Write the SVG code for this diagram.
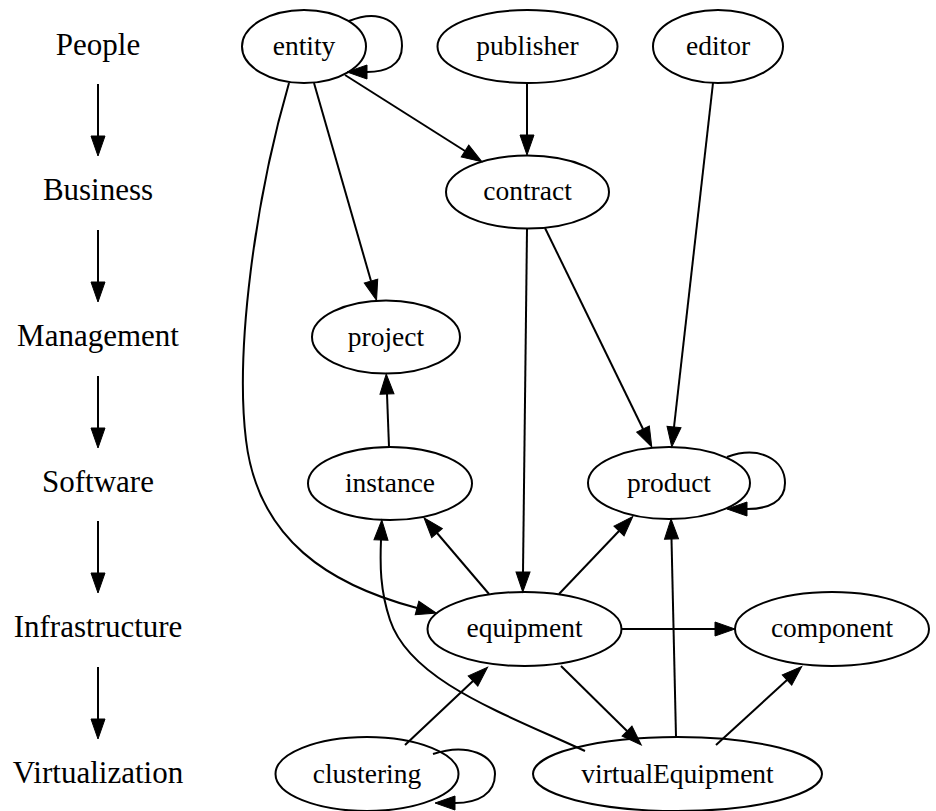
<svg xmlns="http://www.w3.org/2000/svg" width="936" height="811" viewBox="0 0 936 811">
<style>
.n ellipse{fill:none;stroke:#000;stroke-width:2}
.n text{font-family:"Liberation Serif","Times New Roman",serif;font-size:27.5px;text-anchor:middle;fill:#000}
.lg text{font-family:"Liberation Serif","Times New Roman",serif;font-size:31px;text-anchor:middle;fill:#000}
.e path{fill:none;stroke:#000;stroke-width:2;marker-end:url(#ah)}
</style>
<defs>
<marker id="ah" markerUnits="userSpaceOnUse" markerWidth="22" markerHeight="16" refX="0" refY="7" orient="auto" viewBox="0 0 22 14" overflow="visible">
<path d="M0,0 L20,7 L0,14 Z" fill="#000" stroke="#000" stroke-width="1"/>
</marker>
</defs>
<rect width="936" height="811" fill="#fff"/>
<g id="legend" class="lg">
<text x="98" y="54.5">People</text>
<text x="98" y="200">Business</text>
<text x="98" y="345.5">Management</text>
<text x="98" y="491.5">Software</text>
<text x="98" y="637">Infrastructure</text>
<text x="98" y="782.5">Virtualization</text>
</g>
<g id="connectors" class="e">
<path d="M98,84 L98,136"/>
<path d="M98,230 L98,282"/>
<path d="M98,376 L98,428"/>
<path d="M98,521 L98,573"/>
<path d="M98,667 L98,719"/>
<path d="M349,21 C380,8 402,22 402,46 C402,66 385,72 367,72"/>
<path d="M345,75 L465,151"/>
<path d="M314,83 L371,281"/>
<path d="M289,83 C255,200 235,350 246,440 C258,540 330,585 417,608"/>
<path d="M527,83 L527,135"/>
<path d="M713,83 L674,427"/>
<path d="M545,228 L643,429"/>
<path d="M527,229 L523,572"/>
<path d="M389,447 L387,394"/>
<path d="M727,457 C760,445 785,460 785,483 C785,502 768,509 747,509"/>
<path d="M489,594 L437,533"/>
<path d="M559,594 L619,531"/>
<path d="M622,629 L715,629"/>
<path d="M561,666 L627,731"/>
<path d="M405,745 L473,681"/>
<path d="M433,754 C468,742 495,756 495,774 C495,794 478,803 455,803"/>
<path d="M716,745 L787,680"/>
<path d="M676,737 L671.5,539"/>
<path d="M585,751 C500,712 410,680 390,620 C380,590 380,565 381,540"/>
</g>
<g id="entity" class="n"><ellipse cx="304" cy="46.5" rx="62" ry="36.5"/><text x="304" y="54.5">entity</text></g>
<g id="publisher" class="n"><ellipse cx="527.5" cy="46.5" rx="90" ry="36.5"/><text x="527.5" y="54.5">publisher</text></g>
<g id="editor" class="n"><ellipse cx="718" cy="46.5" rx="65" ry="36.5"/><text x="718" y="54.5">editor</text></g>
<g id="contract" class="n"><ellipse cx="527.5" cy="192" rx="81.5" ry="36.5"/><text x="527.5" y="200">contract</text></g>
<g id="project" class="n"><ellipse cx="386" cy="337" rx="74" ry="36.5"/><text x="386" y="345.5">project</text></g>
<g id="instance" class="n"><ellipse cx="390" cy="483.5" rx="82" ry="36.5"/><text x="390" y="491.5">instance</text></g>
<g id="product" class="n"><ellipse cx="669" cy="483" rx="81" ry="36"/><text x="669" y="491.5">product</text></g>
<g id="equipment" class="n"><ellipse cx="524.5" cy="629" rx="97" ry="37"/><text x="524.5" y="637">equipment</text></g>
<g id="component" class="n"><ellipse cx="832" cy="629" rx="97" ry="37"/><text x="832" y="637">component</text></g>
<g id="clustering" class="n"><ellipse cx="367" cy="774" rx="91.5" ry="37"/><text x="367" y="782.5">clustering</text></g>
<g id="virtualEquipment" class="n"><ellipse cx="677.5" cy="774" rx="144.5" ry="37"/><text x="677.5" y="782.5">virtualEquipment</text></g>
</svg>
